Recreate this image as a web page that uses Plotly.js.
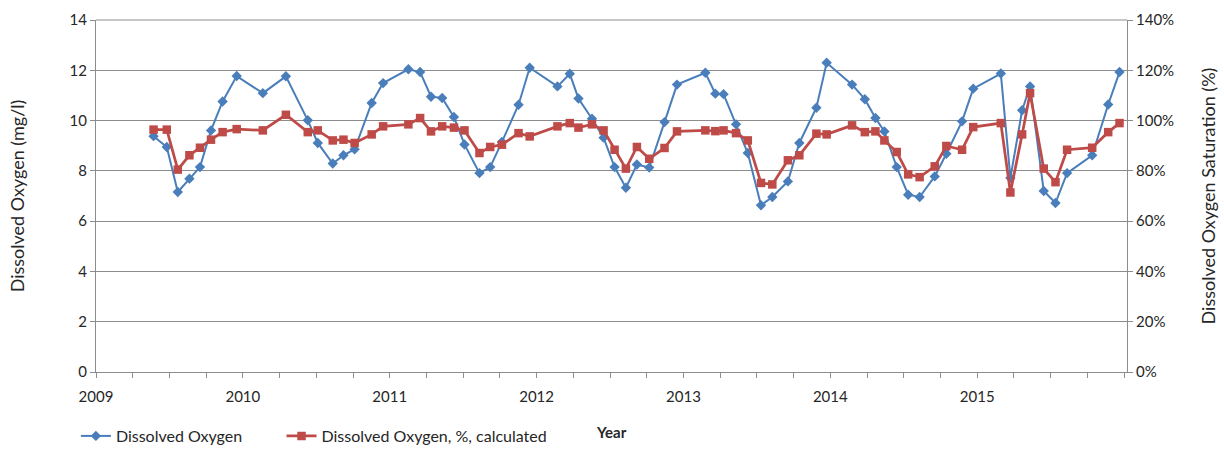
<!DOCTYPE html>
<html>
<head>
<meta charset="utf-8">
<script src="https://cdn.plot.ly/plotly-3.0.1.min.js"></script>
<style>html,body{margin:0;padding:0;background:#fff;}#chart{width:1224px;height:453px;}</style>
</head>
<body>
<div id="chart"></div>
<script>
// Sampling times (decimal years)
const sampleTimes = [
  2009.392, 2009.482, 2009.557, 2009.636, 2009.708, 2009.783, 2009.862, 2009.958,
  2010.136, 2010.293, 2010.442, 2010.510, 2010.612, 2010.685, 2010.761, 2010.877, 2010.955,
  2011.127, 2011.207, 2011.281, 2011.357, 2011.437, 2011.509, 2011.611, 2011.684, 2011.764, 2011.877, 2011.953,
  2012.142, 2012.226, 2012.285, 2012.377, 2012.456, 2012.531, 2012.608, 2012.683, 2012.767, 2012.871, 2012.956,
  2013.149, 2013.217, 2013.273, 2013.358, 2013.438, 2013.528, 2013.605, 2013.711, 2013.789, 2013.905, 2013.975,
  2014.148, 2014.235, 2014.307, 2014.368, 2014.452, 2014.530, 2014.608, 2014.711, 2014.790, 2014.897, 2014.973,
  2015.161, 2015.226, 2015.306, 2015.360, 2015.453, 2015.533, 2015.612, 2015.783, 2015.892, 2015.969
];
// Dissolved oxygen (mg/l)
const doMgL = [
  9.38, 8.95, 7.16, 7.69, 8.15, 9.61, 10.76, 11.77,
  11.09, 11.76, 10.01, 9.11, 8.29, 8.62, 8.86, 10.70, 11.49,
  12.04, 11.93, 10.95, 10.90, 10.14, 9.05, 7.91, 8.15, 9.15, 10.63, 12.10,
  11.36, 11.86, 10.88, 10.07, 9.32, 8.15, 7.33, 8.25, 8.13, 9.94, 11.43,
  11.90, 11.07, 11.05, 9.85, 8.71, 6.63, 6.96, 7.58, 9.11, 10.51, 12.30,
  11.43, 10.85, 10.10, 9.57, 8.15, 7.05, 6.96, 7.78, 8.68, 9.97, 11.27,
  11.87, 7.72, 10.41, 11.36, 7.20, 6.72, 7.91, 8.62, 10.64, 11.93
];
// Dissolved oxygen saturation, calculated (%)
const doPct = [
  96.4, 96.4, 80.5, 86.2, 89.2, 92.4, 95.4, 96.6,
  96.1, 102.3, 95.4, 96.1, 92.1, 92.4, 91.1, 94.5, 97.7,
  98.5, 101.0, 95.7, 97.7, 97.2, 96.1, 87.1, 89.5, 90.4, 95.0, 93.7,
  97.7, 99.0, 97.2, 98.5, 96.1, 88.4, 80.9, 89.5, 84.8, 89.1, 95.7,
  96.1, 95.8, 96.1, 95.0, 92.1, 75.2, 74.6, 84.2, 86.2, 94.8, 94.5,
  98.1, 95.4, 95.7, 92.1, 87.5, 78.6, 77.5, 81.8, 89.9, 88.4, 97.4,
  99.0, 71.4, 94.5, 110.9, 80.9, 75.5, 88.4, 89.2, 95.4, 99.0
];
const yearTicks = [2009, 2010, 2011, 2012, 2013, 2014, 2015];
const yearLabels = ['2009', '2010', '2011', '2012', '2013', '2014', '2015'];
const leftTicks = [0, 2, 4, 6, 8, 10, 12, 14];
const rightTicks = [0, 20, 40, 60, 80, 100, 120, 140];
const rightLabels = ['0%', '20%', '40%', '60%', '80%', '100%', '120%', '140%'];

const FONT = 'Lato, "Open Sans", sans-serif';
const TXT = '#262626';
const GRID = '#8c8c8c';

const traces = [
  {
    x: sampleTimes, y: doMgL, name: 'Dissolved Oxygen', type: 'scatter', mode: 'lines+markers',
    line: {color: '#4A7EBB', width: 2},
    marker: {symbol: 'diamond', size: 8, color: '#4A7EBB'},
    yaxis: 'y', legend: 'legend'
  },
  {
    x: sampleTimes, y: doPct, name: 'Dissolved Oxygen, %, calculated', type: 'scatter', mode: 'lines+markers',
    line: {color: '#BE4B48', width: 2.75},
    marker: {symbol: 'square', size: 8.5, color: '#BE4B48'},
    yaxis: 'y2', legend: 'legend2'
  }
];

const legendBase = {orientation: 'h', xanchor: 'left', xref: 'container', y: 0.0, yanchor: 'bottom', yref: 'container',
  font: {family: FONT, size: 16, color: TXT}, bgcolor: 'rgba(0,0,0,0)'};

const layout = {
  width: 1224, height: 453,
  margin: {l: 96, r: 97, t: 20, b: 81},
  paper_bgcolor: '#fff', plot_bgcolor: '#fff',
  font: {family: FONT, size: 15, color: TXT},
  showlegend: true,
  legend: Object.assign({}, legendBase, {x: 0.062}),
  legend2: Object.assign({}, legendBase, {x: 0.23}),
  xaxis: {
    range: [2009, 2016.02], tickvals: yearTicks, ticktext: yearLabels,
    showgrid: false, zeroline: false, showline: true, linecolor: GRID, linewidth: 1,
    ticks: 'outside', ticklen: 5, tickcolor: GRID, ticklabelstandoff: 6,
    minor: {dtick: 0.25, tick0: 2009, ticks: 'outside', ticklen: 5, tickcolor: GRID, showgrid: false},
    tickfont: {size: 15, color: TXT}
  },
  yaxis: {
    range: [0, 14], tickvals: leftTicks, showgrid: true, gridcolor: GRID, gridwidth: 1,
    zeroline: false, showline: true, linecolor: GRID, ticks: 'outside', ticklen: 5, tickcolor: GRID,
    tickfont: {size: 15, color: TXT},
    title: {text: 'Dissolved Oxygen (mg/l)', font: {size: 18, color: TXT}, standoff: 40}
  },
  yaxis2: {
    range: [0, 140], tickvals: rightTicks, ticktext: rightLabels, overlaying: 'y', side: 'right',
    showgrid: false, zeroline: false, showline: true, linecolor: GRID, ticks: 'outside', ticklen: 5, tickcolor: GRID,
    tickfont: {size: 15, color: TXT},
    title: {text: 'Dissolved Oxygen Saturation (%)', font: {size: 18, color: TXT}, standoff: 29}
  },
  annotations: [
    {text: '<b>Year</b>', xref: 'paper', yref: 'paper', x: 0.5, y: -0.17, xanchor: 'center', yanchor: 'middle',
     showarrow: false, font: {family: FONT, size: 15, color: TXT}}
  ],
  shapes: [
    {type: 'line', xref: 'paper', yref: 'paper', x0: 0, x1: 1, y0: 1, y1: 1, line: {color: GRID, width: 1}}
  ]
};

Plotly.newPlot('chart', traces, layout, {displayModeBar: false, staticPlot: true});
</script>
</body>
</html>
